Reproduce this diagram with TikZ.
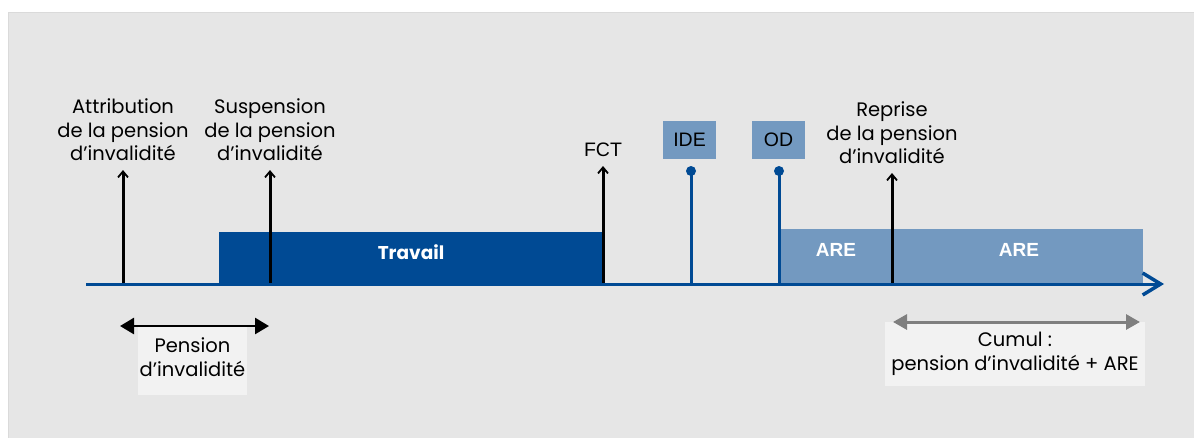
\documentclass[tikz,border=0pt]{standalone}
\usepackage{fontspec}
\setmainfont{Poppins}
\newfontfamily\arialf{Liberation Sans}
\usetikzlibrary{arrows.meta}
\definecolor{bg}{HTML}{E6E6E6}
\definecolor{bgline}{HTML}{DADADA}
\definecolor{navy}{HTML}{004A94}
\definecolor{lblue}{HTML}{7399C0}
\definecolor{boxgray}{HTML}{F2F2F2}
\definecolor{dgray}{HTML}{7F7F7F}
\begin{document}
\begin{tikzpicture}[x=1pt,y=-1pt,
  lbl/.style={align=center,inner sep=0pt,font=\fontsize{19.5}{23.5}\selectfont,text=black},
  arlbl/.style={inner sep=0pt,font=\arialf\fontsize{19.5}{22}\selectfont,text=black},
  barlbl/.style={inner sep=0pt,text=white},
  tagbox/.style={fill=lblue,minimum width=53pt,minimum height=38pt,inner sep=0pt,font=\arialf\fontsize{19.5}{22}\selectfont},
  bluedot/.style={circle,fill=navy,minimum size=10pt,inner sep=0pt},
  stem/.style={draw=navy,line width=3pt},
  vup/.style={draw=black,line width=3pt,-{Straight Barb[length=6pt,width=10pt,line width=1.8pt]}},
  dbl/.style={draw=black,line width=2.6pt,{Triangle[length=14pt,width=16pt]}-{Triangle[length=14pt,width=16pt]}},
  gdbl/.style={draw=dgray,line width=3pt,{Triangle[length=14pt,width=15pt]}-{Triangle[length=14pt,width=15pt]}},
  axis/.style={draw=navy,line width=3pt,-{Straight Barb[length=18pt,width=22pt,line width=3.5pt]}},
  infobox/.style={fill=boxgray,inner sep=0pt}
]
\useasboundingbox (0,0) rectangle (1194,437);
\fill[white] (0,0) rectangle (1194,437);
\draw[bgline,fill=bg,line width=1.5pt] (8.5,12.5) rectangle (1196,440);

% bars
\node[fill=navy,minimum width=384pt,minimum height=53pt,inner sep=0pt] (travail) at (411,258) {};
\node[barlbl,font=\bfseries\fontsize{18.5}{20}\selectfont] (travaillbl) at (411,252) {Travail};
\node[fill=lblue,minimum width=364pt,minimum height=55pt,inner sep=0pt] (are) at (961,256.5) {};
\node[barlbl,font=\arialf\bfseries\fontsize{19}{20}\selectfont] (are1) at (836,250) {ARE};
\node[barlbl,font=\arialf\bfseries\fontsize{19}{20}\selectfont] (are2) at (1019,250) {ARE};

% axis
\coordinate (axstart) at (86,284);
\coordinate (axend) at (1164,284);

% base coordinates
\coordinate (b1) at (123,285);
\coordinate (b2) at (270,285);
\coordinate (b3) at (603,285);
\coordinate (b4) at (892,285);
\coordinate (b5) at (691,284);
\coordinate (b6) at (779,284);

% labels
\node[lbl,anchor=south] (attr) at (123,161) {Attribution\\de la pension\\d’invalidité};
\node[lbl,anchor=south] (susp) at (270,161) {Suspension\\de la pension\\d’invalidité};
\node[arlbl] (fct) at (603,150) {FCT};
\node[lbl,anchor=south] (repr) at (892,164) {Reprise\\de la pension\\d’invalidité};

\node[tagbox] (ide) at (689.5,140) {IDE};
\node[tagbox] (od) at (778.5,140) {OD};
\node[bluedot] (idedot) at (691,171) {};
\node[bluedot] (oddot) at (779,171) {};

\draw[stem] (b5) -- (idedot.center);
\draw[stem] (b6) -- (oddot.center);

\draw[vup,shorten >=9pt] (b1) -- (attr.south);
\draw[vup,shorten >=9pt] (b2) -- (susp.south);
\draw[vup,shorten >=16pt] (b3) -- (fct.center);
\draw[vup,shorten >=9pt] (b4) -- (repr.south);

\draw[axis] (axstart) -- (axend);

% bottom info
\node[infobox,minimum width=109pt,minimum height=68pt] (pbox) at (192.5,361) {};
\node[lbl] (ptxt) at (192.5,357) {Pension\\d’invalidité};
\coordinate (pa) at (120,326);
\coordinate (pb) at (269,326);
\draw[dbl] (pa) -- (pb);

\node[infobox,minimum width=260pt,minimum height=64pt] (cbox) at (1015,354) {};
\node[lbl] (ctxt) at (1015,354) {Cumul :\\pension d’invalidité + ARE};
\coordinate (ca) at (893,322);
\coordinate (cb) at (1140,322);
\draw[gdbl] (ca) -- (cb);
\end{tikzpicture}
\end{document}
